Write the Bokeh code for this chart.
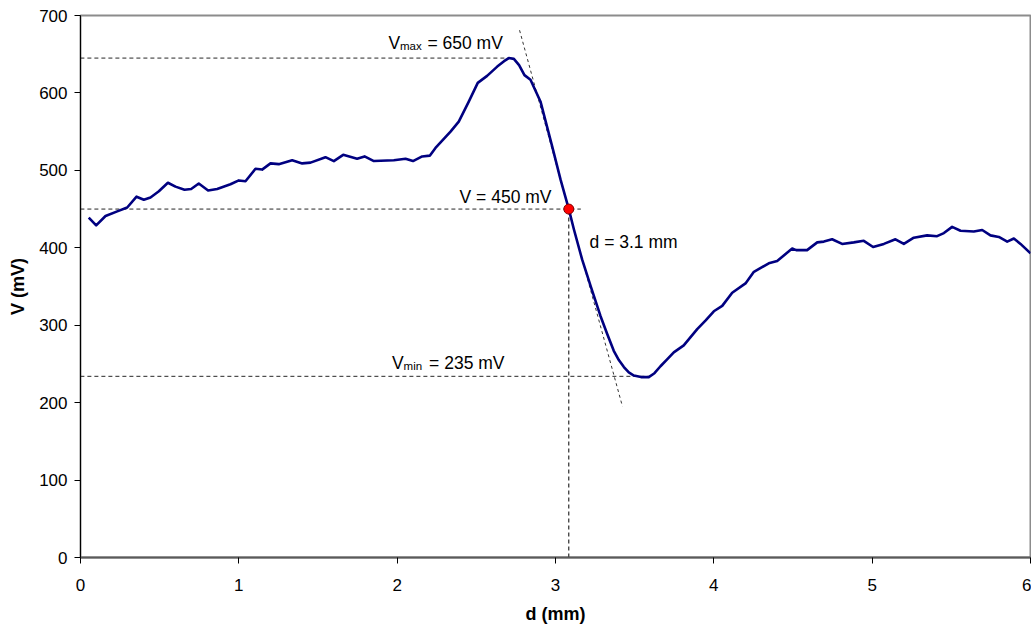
from bokeh.plotting import figure
from bokeh.models import Range1d, FixedTicker, ColumnDataSource
from bokeh.core.properties import value
from bokeh.embed import file_html
from bokeh.resources import INLINE

# ---- data ----
d_mm = [0.052, 0.099, 0.158, 0.232, 0.295, 0.354, 0.40, 0.442, 0.495, 0.552, 0.60, 0.657, 0.699,
        0.747, 0.806, 0.863, 0.947, 1.0, 1.042, 1.105, 1.147, 1.20, 1.252, 1.337, 1.40, 1.453,
        1.547, 1.60, 1.659, 1.747, 1.794, 1.853, 1.979, 2.053, 2.10, 2.158, 2.206, 2.242, 2.337,
        2.389, 2.453, 2.509, 2.568, 2.632, 2.675, 2.705, 2.737, 2.77, 2.804, 2.842, 2.905, 2.979,
        3.032, 3.084, 3.116, 3.168, 3.221, 3.284, 3.326, 3.368, 3.40, 3.432, 3.463, 3.495, 3.54,
        3.589, 3.625, 3.663, 3.705, 3.747, 3.81, 3.895, 3.947, 4.0, 4.053, 4.116, 4.2, 4.253,
        4.347, 4.4, 4.495, 4.52, 4.589, 4.653, 4.695, 4.747, 4.81, 4.884, 4.947, 5.006, 5.074,
        5.147, 5.2, 5.263, 5.347, 5.41, 5.453, 5.505, 5.558, 5.642, 5.695, 5.747, 5.8, 5.853,
        5.895, 5.937, 6.0]
v_mV = [439, 429, 441, 447, 452, 466, 462, 465, 473, 484, 479, 475, 476,
        483, 474, 476, 482, 487, 486, 502, 501, 509, 508, 513, 509, 510,
        517, 512, 520, 515, 518, 512, 513, 515, 512, 518, 519, 529, 550,
        563, 589, 613, 622, 634, 641, 645, 644, 636, 623, 617, 589, 531,
        488, 450, 424, 385, 351, 312, 289, 267, 255, 246, 239, 235, 233,
        233, 238, 247, 256, 265, 274, 295, 306, 318, 325, 342, 354, 369,
        380, 383, 399, 397, 397, 407, 408, 411, 405, 407, 409, 401, 405,
        411, 405, 413, 416, 415, 419, 427, 422, 421, 423, 416, 414, 408,
        412, 405, 393]

x_ticks = [0, 1, 2, 3, 4, 5, 6]
y_ticks = [0, 100, 200, 300, 400, 500, 600, 700]

v_max = 645
v_mid = 450
v_min = 234
d_mid = 3.084
tangent_x = [2.773, 3.423]
tangent_y = [681, 195]

FONT = "Liberation Sans"

p = figure(width=1031, height=626, output_backend="svg", toolbar_location=None,
           x_range=Range1d(0, 6), y_range=Range1d(0, 700),
           min_border_left=80, min_border_right=1, min_border_top=15, min_border_bottom=66)

p.xgrid.visible = False
p.ygrid.visible = False
p.outline_line_color = "#8c8c8c"
p.outline_line_width = 2
p.background_fill_color = "white"
p.border_fill_color = "white"

for ax in (p.xaxis[0], p.yaxis[0]):
    ax.major_label_text_font = FONT
    ax.major_label_text_font_size = "17px"
    ax.major_label_text_color = "black"
    ax.axis_label_text_font = FONT
    ax.axis_label_text_font_size = "18px"
    ax.axis_label_text_font_style = "bold"
    ax.axis_label_text_color = "black"
    ax.minor_tick_line_color = None
    ax.major_tick_in = 0
    ax.major_tick_out = 6
    ax.major_tick_line_color = "black"

p.xaxis.ticker = FixedTicker(ticks=x_ticks)
p.yaxis.ticker = FixedTicker(ticks=y_ticks)
p.xaxis.axis_label = "d (mm)"
p.yaxis.axis_label = "V (mV)"
p.xaxis.axis_line_color = "#5a5a5a"
p.xaxis.axis_line_width = 2
p.yaxis.axis_line_color = "black"
p.xaxis.major_label_standoff = 15
p.yaxis.major_label_standoff = 7
p.xaxis.axis_label_standoff = 10
p.yaxis.axis_label_standoff = 8

dash_col = "#262626"
# reference lines
p.line([-0.045, 2.72], [v_max, v_max], line_color=dash_col, line_width=1, line_dash="4 3")
p.line([-0.045, 3.16], [v_mid, v_mid], line_color=dash_col, line_width=1, line_dash="4 3")
p.line([-0.045, 3.6], [v_min, v_min], line_color=dash_col, line_width=1, line_dash="4 3")
p.line([d_mid, d_mid], [0, v_mid], line_color="black", line_width=1, line_dash="4 3")
p.line(tangent_x, tangent_y, line_color="black", line_width=0.8, line_dash="3 3")

# curve
src = ColumnDataSource(dict(x=d_mm, y=v_mV))
p.line("x", "y", source=src, line_color="#000080", line_width=2.6, line_join="round")

# marker
p.scatter([d_mid], [v_mid], size=10, fill_color="#ff0000", line_color="#800000", line_width=1)

def txt(x, y, s, size="17.5px", dx=0, dy=0):
    p.text([x], [y], text=[s], text_font=value(FONT), text_font_size=size,
           text_color="black", text_align="left", text_baseline="alphabetic",
           x_offset=dx, y_offset=dy)

# V_max label
txt(1.945, 665, "V")
txt(1.945, 665, "max", size="11.5px", dx=11.5, dy=3)
txt(1.945, 665, "= 650 mV", dx=39)
# V = 450
txt(2.394, 465, "V = 450 mV")
# d = 3.1 mm
txt(3.215, 407, "d = 3.1 mm")
# V_min label
txt(1.968, 251, "V")
txt(1.968, 251, "min", size="11.5px", dx=11.5, dy=3)
txt(1.968, 251, "= 235 mV", dx=37)

open("out.html", "w").write(file_html(p, INLINE))
